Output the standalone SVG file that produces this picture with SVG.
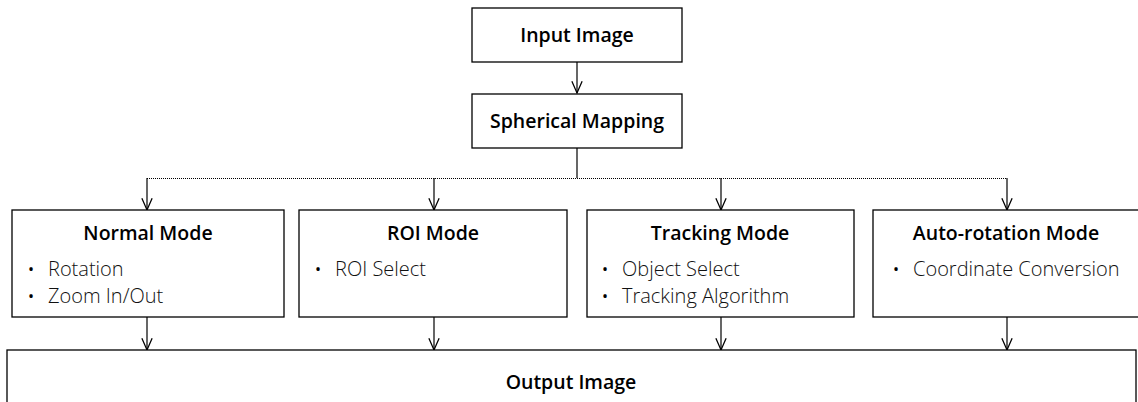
<svg xmlns="http://www.w3.org/2000/svg" width="1138" height="402" viewBox="0 0 1138 402">
  <style>
    .box { fill: #fff; stroke: #000; stroke-width: 1.3; }
    .title { font-family: "Open Sans", "Noto Sans", sans-serif; font-weight: 600; font-size: 19.5px; fill: #000; text-anchor: middle; }
    .item { font-family: "Open Sans", "Noto Sans", sans-serif; font-weight: 300; font-size: 20px; fill: #111; }
    .dot { font-family: "Open Sans", "Noto Sans", sans-serif; font-size: 16px; fill: #000; }
    .wire { fill: none; stroke: #000; stroke-width: 1.2; }
    .bus { fill: none; stroke: #000; stroke-width: 1.2; stroke-dasharray: 1 1; }
  </style>
  <defs>
    <!-- open V arrowhead pointing along the line direction -->
    <marker id="vee" markerUnits="userSpaceOnUse" markerWidth="14" markerHeight="12" refX="11" refY="5" orient="auto" viewBox="0 0 12 10" overflow="visible">
      <path d="M1,0.6 L11,5 L1,9.4" fill="none" stroke="#000" stroke-width="1.1"/>
    </marker>
  </defs>

  <!-- connectors -->
  <g id="connectors">
    <line class="wire" x1="577" y1="62" x2="577" y2="93" marker-end="url(#vee)"/>
    <line class="wire" x1="577" y1="148" x2="577" y2="178"/>
    <line class="bus" x1="147" y1="178.5" x2="1007" y2="178.5"/>
    <line class="wire" x1="147" y1="178" x2="147" y2="210" marker-end="url(#vee)"/>
    <line class="wire" x1="434" y1="178" x2="434" y2="210" marker-end="url(#vee)"/>
    <line class="wire" x1="721" y1="178" x2="721" y2="210" marker-end="url(#vee)"/>
    <line class="wire" x1="1007" y1="178" x2="1007" y2="210" marker-end="url(#vee)"/>
    <line class="wire" x1="147" y1="317" x2="147" y2="350" marker-end="url(#vee)"/>
    <line class="wire" x1="434" y1="317" x2="434" y2="350" marker-end="url(#vee)"/>
    <line class="wire" x1="721" y1="317" x2="721" y2="350" marker-end="url(#vee)"/>
    <line class="wire" x1="1007" y1="317" x2="1007" y2="350" marker-end="url(#vee)"/>
  </g>

  <g id="input-image">
    <rect class="box" x="472" y="8" width="210" height="54"/>
    <text class="title" x="577" y="42">Input Image</text>
  </g>

  <g id="spherical-mapping">
    <rect class="box" x="472" y="94" width="210" height="54"/>
    <text class="title" x="577" y="128">Spherical Mapping</text>
  </g>

  <g id="normal-mode">
    <rect class="box" x="12" y="210" width="272" height="107"/>
    <text class="title" x="148" y="240">Normal Mode</text>
    <text class="dot" x="28" y="275">•</text>
    <text class="item" x="48" y="276">Rotation</text>
    <text class="dot" x="28" y="302">•</text>
    <text class="item" x="48" y="303">Zoom In/Out</text>
  </g>

  <g id="roi-mode">
    <rect class="box" x="299" y="210" width="268" height="107"/>
    <text class="title" x="433" y="240">ROI Mode</text>
    <text class="dot" x="315" y="275">•</text>
    <text class="item" x="335" y="276">ROI Select</text>
  </g>

  <g id="tracking-mode">
    <rect class="box" x="587" y="210" width="267" height="107"/>
    <text class="title" x="720" y="240">Tracking Mode</text>
    <text class="dot" x="602" y="275">•</text>
    <text class="item" x="622" y="276">Object Select</text>
    <text class="dot" x="602" y="302">•</text>
    <text class="item" x="622" y="303">Tracking Algorithm</text>
  </g>

  <g id="auto-rotation-mode">
    <rect class="box" x="873" y="210" width="270" height="107"/>
    <text class="title" x="1006" y="240">Auto-rotation Mode</text>
    <text class="dot" x="893" y="275">•</text>
    <text class="item" x="913" y="276">Coordinate Conversion</text>
  </g>

  <g id="output-image">
    <rect class="box" x="7" y="350" width="1129" height="60"/>
    <text class="title" x="571" y="389">Output Image</text>
  </g>
</svg>
